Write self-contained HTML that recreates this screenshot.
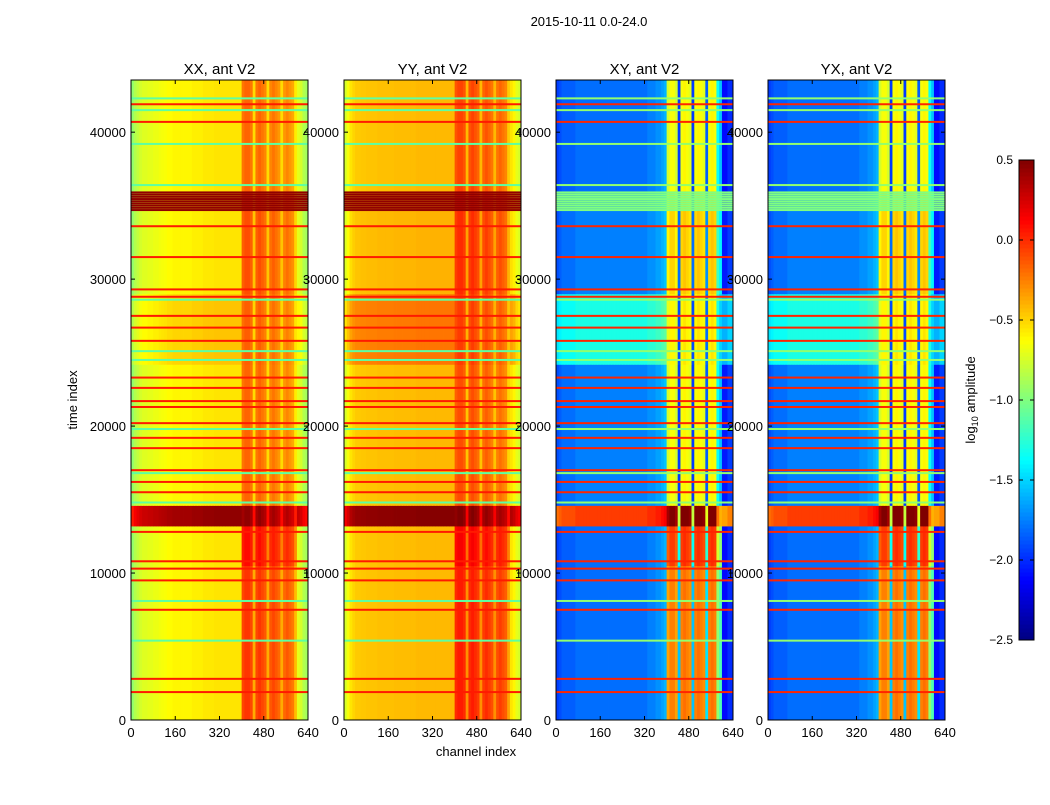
<!DOCTYPE html>
<html><head><meta charset="utf-8"><style>
body{margin:0;background:#fff;}
svg text{font-family:"Liberation Sans","DejaVu Sans",sans-serif;fill:#000;}
</style></head><body>
<svg id="fig" width="1050" height="800" viewBox="0 0 1050 800" xmlns="http://www.w3.org/2000/svg">
<rect width="1050" height="800" fill="#fff"/>
<text x="589" y="26" font-size="13" text-anchor="middle">2015-10-11 0.0-24.0</text>
<text x="476" y="756" font-size="13" text-anchor="middle">channel index</text>
<text transform="translate(77,400) rotate(-90)" font-size="13" text-anchor="middle">time index</text>
<text transform="translate(975,400) rotate(-90)" font-size="13" text-anchor="middle">log<tspan font-size="9" dy="3">10</tspan><tspan dy="-3"> amplitude</tspan></text>
<g id="panels"></g>
<g id="cbar"></g>
<g id="labels"></g>
</svg>
<script>
// ---- data ----
const channelBins = [0,10,20,30,40,50,60,70,80,90,100,110,120,130,140,150,160,170,180,190,200,210,220,230,240,250,260,270,280,290,300,310,320,330,340,350,360,370,380,390,400,410,420,430,440,450,460,470,480,490,500,510,520,530,540,550,560,570,580,590,600,610,620,630];
const xxProfile = [-0.95,-0.85,-0.8,-0.75,-0.72,-0.72,-0.7,-0.7,-0.68,-0.68,-0.66,-0.65,-0.64,-0.62,-0.62,-0.6,-0.6,-0.6,-0.6,-0.6,-0.6,-0.6,-0.58,-0.58,-0.58,-0.58,-0.56,-0.56,-0.56,-0.56,-0.55,-0.55,-0.55,-0.55,-0.55,-0.55,-0.55,-0.55,-0.55,-0.55,
 -0.2,-0.15,-0.15,-0.2,-0.5,-0.2,-0.15,-0.2,-0.25,-0.5,-0.25,-0.2,-0.25,-0.3,-0.5,-0.3,-0.25,-0.3,-0.35,-0.55,-0.7,-0.75,-0.85,-0.9];
const yyProfile = [-0.75,-0.65,-0.55,-0.5,-0.47,-0.47,-0.46,-0.46,-0.45,-0.45,-0.45,-0.45,-0.44,-0.44,-0.44,-0.44,-0.44,-0.44,-0.43,-0.43,-0.43,-0.43,-0.43,-0.43,-0.43,-0.43,-0.42,-0.42,-0.42,-0.42,-0.42,-0.42,-0.42,-0.42,-0.42,-0.42,-0.42,-0.42,-0.42,-0.42,
 -0.15,-0.1,-0.1,-0.15,-0.45,-0.15,-0.1,-0.15,-0.2,-0.45,-0.2,-0.15,-0.2,-0.25,-0.45,-0.25,-0.2,-0.25,-0.3,-0.5,-0.55,-0.6,-0.7,-0.75];
const xyProfile = [-1.95,-1.9,-1.85,-1.85,-1.85,-1.85,-1.85,-1.8,-1.8,-1.8,-1.8,-1.8,-1.8,-1.8,-1.8,-1.8,-1.8,-1.8,-1.8,-1.8,-1.8,-1.8,-1.8,-1.8,-1.8,-1.8,-1.8,-1.8,-1.8,-1.8,-1.8,-1.8,-1.8,-1.75,-1.75,-1.75,-1.7,-1.7,-1.65,-1.6,
 -0.9,-0.8,-0.8,-0.9,-2.1,-0.8,-0.75,-0.8,-0.85,-2.1,-0.8,-0.75,-0.8,-0.85,-2.0,-0.8,-0.75,-0.8,-1.5,-1.7,-2.1,-2.1,-2.0,-2.0];
const yxProfile = xyProfile.slice();
const segStarts = [0,10500,13200,14600,24200,29000,36000];
const segEnds   = [10500,13200,14600,24200,29000,36000,43550];
const xxBaseOff = [0,0,1.0,0,0.1,0,0];
const xxBandOff = [0.12,0.25,0.6,-0.02,0.0,0.05,-0.02];
const yyBaseOff = [0,0,0.9,0,0.2,0.02,0];
const yyBandOff = [0.15,0.25,0.6,0.0,0.05,0.1,0.03];
const xyBaseOff = [0,0,1.75,0.05,0.5,0.05,0];
const xyBandOff = [0.55,0.75,1.3,0.15,0.2,0.3,0.15];
const redLines = [1900,2800,7500,9500,10300,10800,12800,15500,16200,17000,18500,19200,20200,21300,21700,22600,23300,25800,26700,27500,28800,29300,31500,33600,40700,41900];
const cyanLines = [5400,8100,14800,16800,19800,24500,25100,28600,36400,39200,41500,42300];
const hotLines = [34700,34850,35000,35150,35300,35450,35600,35750,35900];
const timeTicks = [0,10000,20000,30000,40000];
const chanTicks = [0,160,320,480,640];
const cbarTicks = [-2.5,-2.0,-1.5,-1.0,-0.5,0.0,0.5];
const titles = ["XX, ant V2","YY, ant V2","XY, ant V2","YX, ant V2"];
const panelX = [131,344,556,768];
const profiles = [xxProfile,yyProfile,xyProfile,yxProfile];
const baseOffs = [xxBaseOff,yyBaseOff,xyBaseOff,xyBaseOff];
const bandOffs = [xxBandOff,yyBandOff,xyBandOff,xyBandOff];
const redVal = [0.05,0.05,0.02,0.02];
const cyanVal = [-1.1,-1.1,-0.95,-0.95];
const hotVal = [0.45,0.45,-1.0,-1.0];

// ---- helpers ----
const NS="http://www.w3.org/2000/svg";
const W=177,TOP=80,BOT=720,TMAX=43550,CMAX=640,VMIN=-2.5,VMAX=0.5;
function jet(v){let x=(v-VMIN)/(VMAX-VMIN);x=Math.max(0,Math.min(1,x));
 const c=t=>Math.round(255*Math.max(0,Math.min(1,1.5-Math.abs(4*x-t))));
 return `rgb(${c(3)},${c(2)},${c(1)})`;}
const yScale=t=>BOT-t/TMAX*(BOT-TOP);
function mk(tag,attrs,parent){const e=document.createElementNS(NS,tag);for(const k in attrs)e.setAttribute(k,attrs[k]);parent.appendChild(e);return e;}
const panels=document.getElementById('panels'),labels=document.getElementById('labels');

for(let p=0;p<4;p++){
 const x0=panelX[p];const xScale=c=>x0+c/CMAX*W;
 const g=mk('g',{},panels);
 
 
 for(let s=0;s<segStarts.length;s++){
  const y1=yScale(segEnds[s]),y2=yScale(segStarts[s]);
  for(let i=0;i<channelBins.length;i++){
   const inBand=channelBins[i]>=400&&channelBins[i]<600;
   const v=profiles[p][i]+(inBand?bandOffs[p][s]:baseOffs[p][s]);
   const x1=xScale(channelBins[i]),x2=xScale(channelBins[i]+10);
   const r=mk('rect',{x:x1.toFixed(2),y:y1.toFixed(2),width:(x2-x1+0.4).toFixed(2),height:(y2-y1+0.4).toFixed(2),fill:jet(v)},g);
   
   
  }
 }
 const lineSets=[[redLines,redVal[p]],[cyanLines,cyanVal[p]],[hotLines,hotVal[p]]];
 for(const [arr,val] of lineSets){for(const t of arr){
  const l=mk('rect',{x:x0,y:(yScale(t)-1).toFixed(2),width:W,height:2,fill:jet(val)},g);
  
  
 }}
 const fr=mk('rect',{x:x0,y:TOP,width:W,height:BOT-TOP,fill:'none',stroke:'#000','stroke-width':1},g);
 
 
 for(const t of timeTicks){const y=yScale(t);
  mk('line',{x1:x0,x2:x0+4,y1:y,y2:y,stroke:'#000'},g);mk('line',{x1:x0+W-4,x2:x0+W,y1:y,y2:y,stroke:'#000'},g);
  const tx=mk('text',{x:x0-5,y:y+5,'font-size':13,'text-anchor':'end'},labels);tx.textContent=t;
  
  }
 for(const c of chanTicks){const x=xScale(c);
  mk('line',{x1:x,x2:x,y1:BOT,y2:BOT-4,stroke:'#000'},g);mk('line',{x1:x,x2:x,y1:TOP,y2:TOP+4,stroke:'#000'},g);
  const tx=mk('text',{x:x,y:BOT+17,'font-size':13,'text-anchor':'middle'},labels);tx.textContent=c;
  
  }
 const tt=mk('text',{x:x0+W/2,y:TOP-6,'font-size':15,'text-anchor':'middle'},labels);tt.textContent=titles[p];
 
 
}
// colorbar
const cb=document.getElementById('cbar');const CX=1019,CW=15,CT=160,CB=640;
const cyS=v=>CB-(v-VMIN)/(VMAX-VMIN)*(CB-CT);
for(let i=0;i<120;i++){const v0=VMIN+i*(VMAX-VMIN)/120,v1=v0+(VMAX-VMIN)/120;
 const r=mk('rect',{x:CX,y:cyS(v1).toFixed(2),width:CW,height:(cyS(v0)-cyS(v1)+0.5).toFixed(2),fill:jet((v0+v1)/2)},cb);
 
 }
const cf=mk('rect',{x:CX,y:CT,width:CW,height:CB-CT,fill:'none',stroke:'#000'},cb);


for(const v of cbarTicks){const y=cyS(v);
 mk('line',{x1:CX,x2:CX+4,y1:y,y2:y,stroke:'#000'},cb);mk('line',{x1:CX+CW-4,x2:CX+CW,y1:y,y2:y,stroke:'#000'},cb);
 const t=mk('text',{x:1013,y:y+4,'font-size':12,'text-anchor':'end'},cb);t.textContent=(v<0?'\u2212':'')+Math.abs(v).toFixed(1);
 
 }
</script>
</body></html>
